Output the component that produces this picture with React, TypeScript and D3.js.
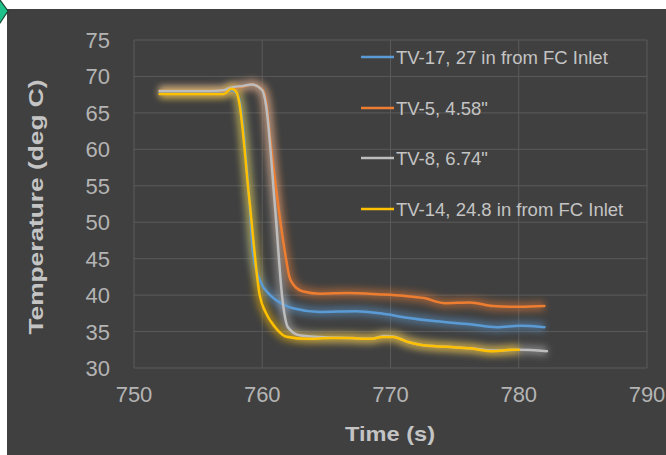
import React from "react";
import * as d3 from "d3";

const W = 666;
const H = 455;

const xTicks = [750, 760, 770, 780, 790];
const yTicks = [30, 35, 40, 45, 50, 55, 60, 65, 70, 75];

const seriesNames = [
  "TV-17, 27 in from FC Inlet",
  "TV-5, 4.58\"",
  "TV-8, 6.74\"",
  "TV-14, 24.8 in from FC Inlet",
];
const seriesColors = ["#5b9bd5", "#ed7d31", "#bdbdbd", "#ffc000"];

const tv17Time = [752, 754, 756, 757, 757.6, 758.1, 759.0, 759.3, 759.9, 760.5, 761.1, 762.4, 764.5, 767.3, 769.2, 771.3, 773.6, 776.2, 778.3, 780.1, 782];
const tv17Temp = [67.8, 67.8, 67.8, 67.8, 68.1, 67.4, 52.8, 45.5, 41.7, 40.2, 39.3, 38.2, 37.7, 37.8, 37.5, 36.9, 36.4, 36.0, 35.6, 35.8, 35.6];

const tv5Time = [752, 754, 756, 757, 757.6, 758.5, 759.2, 760.0, 760.3, 760.6, 761.9, 762.1, 762.4, 763.2, 764.5, 766.6, 769.2, 771.0, 772.6, 774.2, 776.2, 778.0, 780.1, 782];
const tv5Temp = [68.0, 68.0, 68.0, 68.0, 68.4, 68.6, 68.9, 68.2, 66.5, 61.7, 44.5, 42.6, 41.5, 40.5, 40.2, 40.3, 40.1, 39.9, 39.6, 38.9, 39.0, 38.5, 38.4, 38.5];

const tv8Time = [752, 754, 756, 757, 757.6, 758.5, 759.2, 760.0, 760.3, 761.0, 761.6, 762.0, 762.9, 764.5, 767.0, 768.5, 769.5, 770.3, 771.3, 772.3, 774.4, 776.2, 778.0, 780.0, 782.2];
const tv8Temp = [68.0, 68.0, 68.0, 68.1, 68.5, 68.7, 68.9, 68.1, 66.0, 52.0, 39.0, 35.6, 34.5, 34.25, 34.1, 34.0, 34.4, 34.3, 33.6, 33.2, 32.9, 32.7, 32.4, 32.5, 32.3];

const tv14Time = [752, 754, 756, 757, 757.6, 758.0, 758.2, 759.0, 759.8, 760.3, 761.0, 761.9, 763.5, 765.3, 766.6, 768.4, 769.4, 770.2, 771.3, 772.3, 774.4, 776.2, 778.0, 779.5, 780.0];
const tv14Temp = [67.6, 67.6, 67.6, 67.6, 68.3, 67.8, 66.5, 53.0, 40.0, 37.5, 35.6, 34.3, 34.0, 34.1, 34.1, 34.0, 34.25, 34.25, 33.6, 33.2, 32.9, 32.7, 32.3, 32.5, 32.5];

const seriesTimes = [tv17Time, tv5Time, tv8Time, tv14Time];
const seriesTemps = [tv17Temp, tv5Temp, tv8Temp, tv14Temp];

const FONT = "'Liberation Sans', Arial, sans-serif";

export default function App() {
  const x = d3.scaleLinear().domain([750, 790]).range([134, 647]);
  const y = d3.scaleLinear().domain([30, 75]).range([368, 40]);
  const line = d3
    .line<[number, number]>()
    .x((d) => x(d[0]))
    .y((d) => y(d[1]))
    .curve(d3.curveMonotoneX);

  const paths = seriesTimes.map((ts, i) =>
    line(ts.map((t, j) => [t, seriesTemps[i][j]] as [number, number])) || ""
  );

  const legendY = [57, 108, 158, 209];

  return (
    <svg
      width={W}
      height={H}
      style={{ position: "absolute", left: 0, top: 0, display: "block" }}
    >
      <defs>
        <filter id="glow" x="-20%" y="-20%" width="140%" height="140%">
          <feGaussianBlur stdDeviation="3.5" />
        </filter>
      </defs>
      <rect x={0} y={0} width={W} height={H} fill="#ffffff" />
      <rect x={7} y={9} width={W - 7} height={H - 9} fill="#404040" />
      <polygon
        points="-8,11 0,0 8,11 0,23"
        fill="#1fc28a"
        stroke="#17402e"
        strokeWidth={1.2}
      />

      {yTicks.map((t) => (
        <line
          key={"h" + t}
          x1={x(750)}
          x2={x(790)}
          y1={y(t)}
          y2={y(t)}
          stroke="#5a5a5a"
          strokeWidth={1}
        />
      ))}
      {xTicks.map((t) => (
        <line
          key={"v" + t}
          x1={x(t)}
          x2={x(t)}
          y1={y(75)}
          y2={y(30)}
          stroke="#5a5a5a"
          strokeWidth={1}
        />
      ))}

      {yTicks.map((t) => (
        <text
          key={"yl" + t}
          x={110}
          y={y(t) + 8}
          textAnchor="end"
          fontFamily={FONT}
          fontSize={22}
          fill="#b4b4b4"
        >
          {t}
        </text>
      ))}
      {xTicks.map((t) => (
        <text
          key={"xl" + t}
          x={x(t)}
          y={402}
          textAnchor="middle"
          fontFamily={FONT}
          fontSize={22}
          fill="#b4b4b4"
        >
          {t}
        </text>
      ))}

      <text
        x={390}
        y={441}
        textAnchor="middle"
        fontFamily={FONT}
        fontSize={21}
        fontWeight="bold"
        fill="#c4c4c4"
        textLength={90}
        lengthAdjust="spacingAndGlyphs"
      >
        Time (s)
      </text>
      <text
        transform="translate(43,207) rotate(-90)"
        textAnchor="middle"
        fontFamily={FONT}
        fontSize={21}
        fontWeight="bold"
        fill="#c4c4c4"
        textLength={255}
        lengthAdjust="spacingAndGlyphs"
      >
        Temperature (deg C)
      </text>

      {paths.map((p, i) => (
        <path
          key={"g" + i}
          d={p}
          fill="none"
          stroke={seriesColors[i]}
          strokeWidth={9}
          strokeOpacity={0.5}
          filter="url(#glow)"
        />
      ))}
      {paths.map((p, i) => (
        <path
          key={"s" + i}
          d={p}
          fill="none"
          stroke={seriesColors[i]}
          strokeWidth={2.5}
          strokeLinejoin="round"
          strokeLinecap="round"
        />
      ))}

      {seriesNames.map((n, i) => (
        <g key={"lg" + i}>
          <line
            x1={361}
            x2={394}
            y1={legendY[i]}
            y2={legendY[i]}
            stroke={seriesColors[i]}
            strokeWidth={2.5}
          />
          <text
            x={396}
            y={legendY[i] + 6.5}
            fontFamily={FONT}
            fontSize={18.5}
            fill="#c4c4c4"
          >
            {n}
          </text>
        </g>
      ))}
    </svg>
  );
}
